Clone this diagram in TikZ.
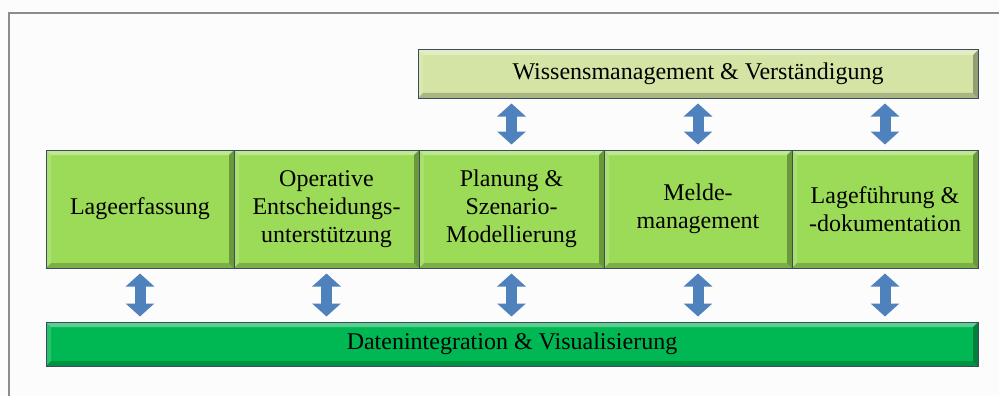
\documentclass[tikz,border=0pt]{standalone}
\usepackage{fontspec}
\setmainfont{Liberation Serif}
\usetikzlibrary{arrows.meta}
\definecolor{boxg}{HTML}{9CDB57}
\definecolor{topg}{HTML}{D4E4A4}
\definecolor{barg}{HTML}{00B853}
\definecolor{edge}{HTML}{3C4C5E}
\definecolor{arr}{HTML}{4F81BD}
\definecolor{frame}{HTML}{8C8C8C}
\tikzset{
  bevel/.style={path picture={
    \fill[white,opacity=0.35] (path picture bounding box.north west) -- (path picture bounding box.north east)
      -- ([shift={(-5,5)}]path picture bounding box.north east) -- ([shift={(5,5)}]path picture bounding box.north west) -- cycle;
    \fill[white,opacity=0.15] (path picture bounding box.north west) -- ([shift={(5,5)}]path picture bounding box.north west)
      -- ([shift={(5,-5)}]path picture bounding box.south west) -- (path picture bounding box.south west) -- cycle;
    \fill[black,opacity=0.2] (path picture bounding box.south west) -- (path picture bounding box.south east)
      -- ([shift={(-5,-5)}]path picture bounding box.south east) -- ([shift={(5,-5)}]path picture bounding box.south west) -- cycle;
    \fill[black,opacity=0.3] (path picture bounding box.north east) -- ([shift={(-5,5)}]path picture bounding box.north east)
      -- ([shift={(-5,-5)}]path picture bounding box.south east) -- (path picture bounding box.south east) -- cycle;
  }},
  txt/.style={font=\fontsize{24}{28}\selectfont},
  gbox/.style={rectangle, draw=edge, line width=1pt, fill=boxg, bevel, minimum height=118pt, inner sep=0pt,
    align=center, txt},
  tbox/.style={rectangle, draw=edge, line width=1pt, fill=topg, bevel, minimum width=560pt, minimum height=48pt,
    inner sep=0pt, txt},
  bbar/.style={rectangle, draw=edge, line width=1pt, fill=barg, bevel, minimum width=932pt, minimum height=44pt,
    inner sep=0pt, txt},
  dblarrow/.style={draw=arr, line width=11pt, shorten <=5pt, shorten >=5pt,
    {Triangle[width=28pt,length=13pt]}-{Triangle[width=28pt,length=13pt]}}
}
\begin{document}
\begin{tikzpicture}[x=1pt,y=-1pt]
\useasboundingbox (0,0) rectangle (999,396);
\fill[white!99!black] (0,0) rectangle (999,396);
\draw[frame, line width=1.5pt] (9,410) -- (9,13) -- (1010,13);
\node[tbox] (wis) at (698,74) {Wissensmanagement \& Verständigung};
\node[gbox, minimum width=188pt] (b1) at (140,209) {Lageerfassung};
\node[gbox, minimum width=185pt] (b2) at (326.5,209) {Operative\\Entscheidungs-\\unterstützung};
\node[gbox, minimum width=185pt] (b3) at (511.5,209) {Planung \&\\Szenario-\\Modellierung};
\node[gbox, minimum width=188pt] (b4) at (698,209) {Melde-\\management};
\node[gbox, minimum width=186pt] (b5) at (885,209) {Lageführung \&\\-dokumentation};
\node[bbar] (dat) at (512,344) {Datenintegration \& Visualisierung};
\foreach \b in {b3,b4,b5} {
  \draw[dblarrow] (\b.north |- wis.south) -- (\b.north);
}
\foreach \b in {b1,b2,b3,b4,b5} {
  \draw[dblarrow] (\b.south) -- (\b.south |- dat.north);
}
\end{tikzpicture}
\end{document}
